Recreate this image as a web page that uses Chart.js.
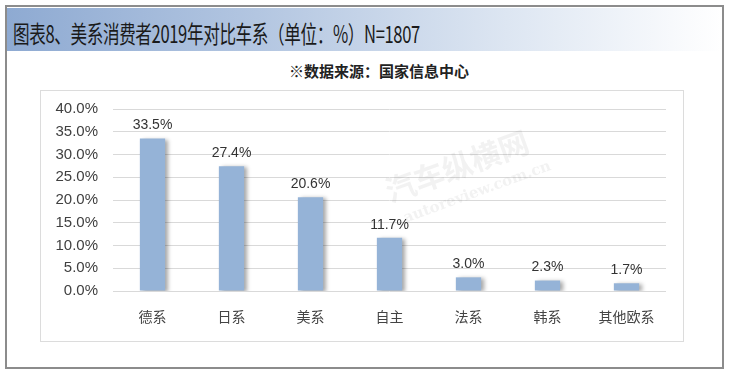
<!DOCTYPE html>
<html>
<head>
<meta charset="utf-8">
<script src="https://cdn.jsdelivr.net/npm/chart.js@4/dist/chart.umd.min.js"></script>
<style>
  body { margin: 0; background: #fff; width: 730px; height: 376px; overflow: hidden; font-family: "Liberation Sans", "Noto Sans CJK SC", sans-serif; }
  .frame { position: absolute; left: 5px; top: 5px; width: 715px; height: 360px; border: 2px solid #8c8c8c; }
  .titlebar { position: absolute; left: 0; top: 1px; width: 715px; height: 43px;
    background: linear-gradient(to right, #8eaad2 0%, #b3c6e1 35%, #dde6f2 70%, #ffffff 100%); }
  .titlebar span { position: absolute; left: 6px; top: 7px; font-size: 24px; color: #1a1a1a; white-space: nowrap;
    font-family: "Noto Sans CJK SC", sans-serif; transform: scaleX(0.69); transform-origin: left center; letter-spacing: -0.5px; }
  .source { position: absolute; left: 0; width: 730px; top: 60px; text-align: center; font-size: 15px; font-weight: bold; color: #222;
    font-family: "Noto Sans CJK SC", sans-serif; padding-left: 28px; box-sizing: border-box; }
  .box { position: absolute; left: 40px; top: 90px; width: 642px; height: 250px; border: 1px solid #dcdcdc; }
  canvas { display: block; position: absolute; left: 0; top: -6px; }
</style>
</head>
<body>
<div class="frame">
  <div class="titlebar"><span>图表8、美系消费者2019年对比车系（单位：%）N=1807</span></div>
</div>
<div class="source">※数据来源：国家信息中心</div>
<div class="box"><canvas id="c" width="642" height="256"></canvas></div>
<script>
const categories = ['德系', '日系', '美系', '自主', '法系', '韩系', '其他欧系'];
const shares = [33.5, 27.4, 20.6, 11.7, 3.0, 2.3, 1.7];
const yTicks = [0, 5, 10, 15, 20, 25, 30, 35, 40];

const shadowPlugin = {
    id: 'shadow',
    beforeDatasetsDraw(chart) {
        const ctx = chart.ctx;
        ctx.save();
        ctx.shadowColor = 'rgba(0,0,0,0.35)';
        ctx.shadowBlur = 4;
        ctx.shadowOffsetX = 3;
        ctx.shadowOffsetY = 1;
    },
    afterDatasetsDraw(chart) {
        chart.ctx.restore();
    }
};

const labelPlugin = {
    id: 'valueLabels',
    afterDraw(chart) {
        const ctx = chart.ctx;
        const meta = chart.getDatasetMeta(0);
        ctx.save();
        // watermark
        ctx.translate(420, 92);
        ctx.rotate(-0.35);
        ctx.fillStyle = 'rgba(90,90,90,0.08)';
        ctx.font = 'bold 30px "Noto Sans CJK SC"';
        ctx.textAlign = 'center';
        ctx.fillText('汽车纵横网', 0, 0);
        ctx.font = 'bold 15px "DejaVu Serif"';
        ctx.fillText('autoreview.com.cn', 10, 24);
        ctx.restore();

        ctx.save();
        ctx.fillStyle = '#333';
        ctx.font = '14px "Liberation Sans"';
        ctx.textAlign = 'center';
        ctx.textBaseline = 'bottom';
        meta.data.forEach((bar, i) => {
            ctx.fillText(shares[i].toFixed(1) + '%', bar.x, bar.y - 6);
        });
        ctx.restore();
    }
};

new Chart(document.getElementById('c'), {
    type: 'bar',
    data: {
        labels: categories,
        datasets: [{
            data: shares,
            backgroundColor: '#95b3d7',
            borderWidth: 0,
            barPercentage: 0.32,
            categoryPercentage: 1
        }]
    },
    options: {
        responsive: false,
        animation: false,
        layout: { padding: { top: 12, right: 17, left: 0, bottom: 0 } },
        plugins: { legend: { display: false }, tooltip: { enabled: false } },
        scales: {
            x: {
                grid: { display: false },
                border: { display: false },
                ticks: { color: '#444', font: { family: 'Noto Sans CJK SC', size: 14 }, padding: 9 },
                afterFit(scale) { scale.height = 50; }
            },
            y: {
                min: 0,
                max: 40,
                afterBuildTicks(scale) { scale.ticks = yTicks.map(v => ({ value: v })); },
                grid: { color: '#d9d9d9', drawTicks: false },
                border: { display: false },
                ticks: {
                    color: '#404040',
                    font: { family: 'Liberation Sans', size: 15 },
                    padding: 15,
                    callback: v => v.toFixed(1) + '%'
                },
                afterFit(scale) { scale.width = 72; }
            }
        }
    },
    plugins: [shadowPlugin, labelPlugin]
});
</script>
</body>
</html>
